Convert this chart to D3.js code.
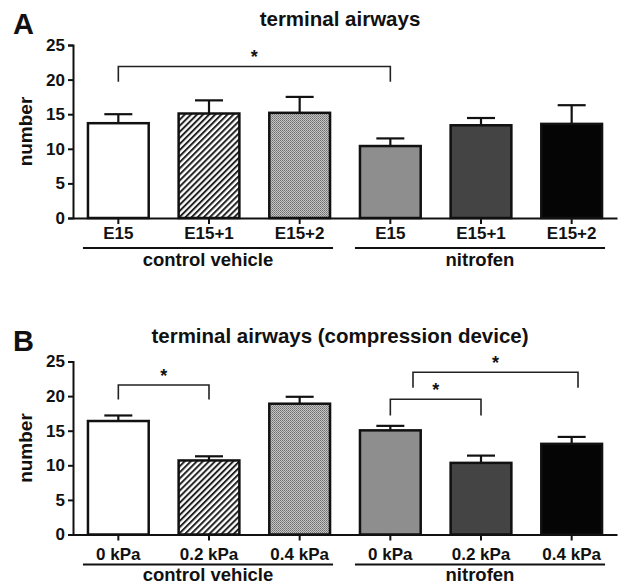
<!DOCTYPE html>
<html>
<head>
<meta charset="utf-8">
<script src="https://cdn.jsdelivr.net/npm/d3@7"></script>
<style>
  body { margin: 0; background: #fff; }
  text { font-family: "Liberation Sans", Arial, sans-serif; font-weight: bold; fill: #111; }
</style>
</head>
<body>
<svg id="chart" width="623" height="585"></svg>
<script>
// panel A: terminal airways
var catsA = ["E15", "E15+1", "E15+2", "E15", "E15+1", "E15+2"];
var meanA = [13.7, 15.1, 15.2, 10.4, 13.4, 13.6];
var semA  = [1.3, 1.9, 2.3, 1.1, 1.05, 2.7];

// panel B: compression device
var catsB = ["0 kPa", "0.2 kPa", "0.4 kPa", "0 kPa", "0.2 kPa", "0.4 kPa"];
var meanB = [16.4, 10.7, 18.9, 15.05, 10.35, 13.1];
var semB  = [0.8, 0.6, 1.0, 0.65, 1.05, 1.0];

var groups = ["control vehicle", "nitrofen"];
var yTicks = [0, 5, 10, 15, 20, 25];

// brackets: [from index, to index, bracket value, drop value]
var sigA = [[0, 3, 21.9, 19.7]];
var sigB = [[0, 1, 21.6, 19.5], [3, 4, 19.55, 17.2], [3.25, 5.07, 23.45, 21.2]];

var fills = ["#fff", "url(#hatch)", "url(#dots)", "#8e8e8e", "#444", "#050505"];

var svg = d3.select("#chart");
var defs = svg.append("defs");

var hatch = defs.append("pattern")
    .attr("id", "hatch")
    .attr("patternUnits", "userSpaceOnUse")
    .attr("width", 4.3).attr("height", 4.3)
    .attr("patternTransform", "rotate(45)");
hatch.append("rect").attr("width", 4.3).attr("height", 4.3).attr("fill", "#fff");
hatch.append("line").attr("x1", 1).attr("x2", 1).attr("y1", 0).attr("y2", 4.3)
    .attr("stroke", "#222").attr("stroke-width", 2);

var dots = defs.append("pattern")
    .attr("id", "dots")
    .attr("patternUnits", "userSpaceOnUse")
    .attr("width", 2).attr("height", 2);
dots.append("rect").attr("width", 2).attr("height", 2).attr("fill", "#c4c4c4");
dots.append("rect").attr("width", 1).attr("height", 1).attr("fill", "#707070");
dots.append("rect").attr("x", 1).attr("y", 1).attr("width", 1).attr("height", 1).attr("fill", "#858585");

function drawPanel(opt) {
  var x = d3.scaleBand()
      .domain(d3.range(opt.cats.length))
      .range([73, 617])
      .paddingInner(0.33)
      .paddingOuter(0.165);

  var y = d3.scaleLinear().domain([0, 25]).range([opt.bottom, opt.bottom - 173]);

  var g = svg.append("g");

  // panel letter + title
  g.append("text").attr("x", 13).attr("y", opt.bottom - 173 - 11)
      .style("font-size", "29px").text(opt.letter);
  g.append("text").attr("x", 340).attr("y", opt.bottom - 173 - 19)
      .attr("text-anchor", "middle").style("font-size", "20.5px").text(opt.title);

  // y axis
  var yAxis = g.append("g")
      .attr("transform", "translate(73,0)")
      .call(d3.axisLeft(y).tickValues(yTicks).tickSize(5).tickPadding(3));
  yAxis.select(".domain").attr("stroke", "#111").attr("stroke-width", 2);
  yAxis.selectAll(".tick line").attr("stroke", "#111").attr("stroke-width", 2);
  yAxis.selectAll(".tick text").style("font-size", "17px").attr("fill", "#111");

  g.append("text")
      .attr("transform", "translate(32," + y(12.5) + ") rotate(-90)")
      .attr("text-anchor", "middle").style("font-size", "19px").text("number");

  // error bars (upper only)
  var eb = g.selectAll(".eb").data(opt.mean).enter().append("g");
  eb.append("line")
      .attr("x1", function(d, i) { return x(i) + x.bandwidth() / 2; })
      .attr("x2", function(d, i) { return x(i) + x.bandwidth() / 2; })
      .attr("y1", function(d) { return y(d); })
      .attr("y2", function(d, i) { return y(d + opt.sem[i]); })
      .attr("stroke", "#111").attr("stroke-width", 2.2);
  eb.append("line")
      .attr("x1", function(d, i) { return x(i) + x.bandwidth() / 2 - 14; })
      .attr("x2", function(d, i) { return x(i) + x.bandwidth() / 2 + 14; })
      .attr("y1", function(d, i) { return y(d + opt.sem[i]); })
      .attr("y2", function(d, i) { return y(d + opt.sem[i]); })
      .attr("stroke", "#111").attr("stroke-width", 2.2);

  // bars
  g.selectAll(".bar").data(opt.mean).enter().append("rect")
      .attr("x", function(d, i) { return x(i); })
      .attr("y", function(d) { return y(d); })
      .attr("width", x.bandwidth())
      .attr("height", function(d) { return y(0) - y(d); })
      .attr("fill", function(d, i) { return fills[i]; })
      .attr("stroke", "#111").attr("stroke-width", 2.5);

  // x axis
  var xAxis = g.append("g")
      .attr("transform", "translate(0," + opt.bottom + ")")
      .call(d3.axisBottom(x).tickFormat(function(i) { return opt.cats[i]; })
          .tickSize(6).tickSizeOuter(0).tickPadding(opt.labelPad));
  xAxis.select(".domain").attr("stroke", "#111").attr("stroke-width", 2);
  xAxis.selectAll(".tick line").attr("stroke", "#111").attr("stroke-width", 2);
  xAxis.selectAll(".tick text").style("font-size", "17px").attr("fill", "#111");

  // group lines + labels
  groups.forEach(function(name, k) {
    var x0 = x(k * 3) - 5, x1 = x(k * 3 + 2) + x.bandwidth() + 3;
    g.append("line").attr("x1", x0).attr("x2", x1)
        .attr("y1", opt.bottom + 30).attr("y2", opt.bottom + 30)
        .attr("stroke", "#111").attr("stroke-width", 2);
    g.append("text").attr("x", (x0 + x1) / 2).attr("y", opt.bottom + opt.groupDy)
        .attr("text-anchor", "middle").style("font-size", "18.5px").text(name);
  });

  // significance brackets
  function cx(v) { return x(0) + x.bandwidth() / 2 + v * x.step(); }
  opt.sig.forEach(function(s) {
    var xa = cx(s[0]), xb = cx(s[1]);
    g.append("path")
        .attr("d", "M" + xa + "," + y(s[3]) + "V" + y(s[2]) + "H" + xb + "V" + y(s[3]))
        .attr("fill", "none").attr("stroke", "#222").attr("stroke-width", 1.6);
    g.append("text").attr("x", (xa + xb) / 2).attr("y", y(s[2]) - 3)
        .attr("text-anchor", "middle").style("font-size", "18px").text("*");
  });
}

drawPanel({ letter: "A", title: "terminal airways", cats: catsA, mean: meanA, sem: semA,
  sig: sigA, bottom: 218, labelPad: 3, groupDy: 48 });
drawPanel({ letter: "B", title: "terminal airways (compression device)", cats: catsB, mean: meanB, sem: semB,
  sig: sigB, bottom: 534.5, labelPad: 7, groupDy: 46 });
</script>
</body>
</html>
